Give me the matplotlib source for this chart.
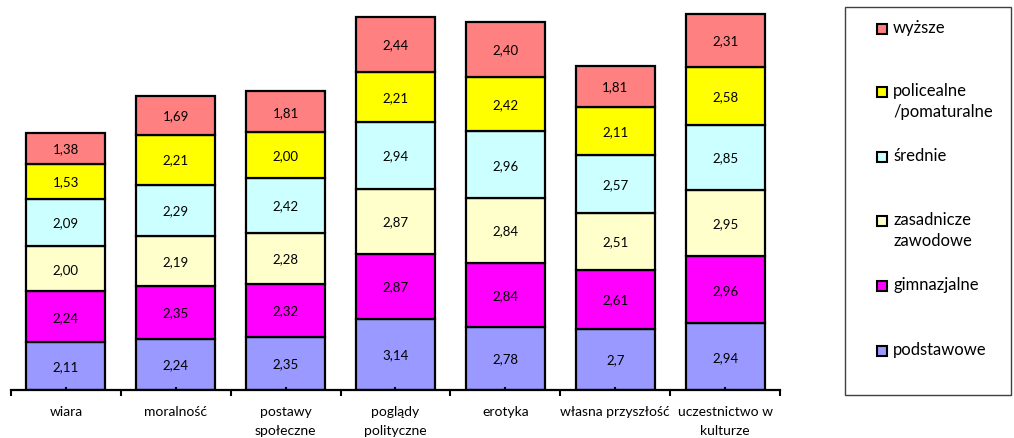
import matplotlib.pyplot as plt
from matplotlib.patches import Rectangle
import numpy as np

categories = ["wiara", "moralność", "postawy\nspołeczne", "poglądy\npolityczne",
              "erotyka", "własna przyszłość", "uczestnictwo w\nkulturze"]

series_names = ["podstawowe", "gimnazjalne", "zasadnicze\nzawodowe", "średnie",
                "policealne\n/pomaturalne", "wyższe"]

podstawowe = ["2,11", "2,24", "2,35", "3,14", "2,78", "2,7", "2,94"]
gimnazjalne = ["2,24", "2,35", "2,32", "2,87", "2,84", "2,61", "2,96"]
zasadnicze = ["2,00", "2,19", "2,28", "2,87", "2,84", "2,51", "2,95"]
srednie = ["2,09", "2,29", "2,42", "2,94", "2,96", "2,57", "2,85"]
policealne = ["1,53", "2,21", "2,00", "2,21", "2,42", "2,11", "2,58"]
wyzsze = ["1,38", "1,69", "1,81", "2,44", "2,40", "1,81", "2,31"]

colors = ["#9999FF", "#FF00FF", "#FFFFCC", "#CCFFFF", "#FFFF00", "#FF8080"]

plt.rcParams['font.family'] = ['Lato', 'DejaVu Sans']

fig = plt.figure(figsize=(10.14, 4.39), dpi=100)
ax = fig.add_axes([11 / 1014, 1 - 391 / 439, 769 / 1014, 391 / 439])

x = np.arange(len(categories))
bottom = np.zeros(len(categories))
for labels, color in zip([podstawowe, gimnazjalne, zasadnicze, srednie, policealne, wyzsze], colors):
    vals = np.array([float(s.replace(",", ".")) for s in labels])
    ax.bar(x, vals, 0.72, bottom=bottom, color=color, edgecolor="black", linewidth=1.6)
    for xi, b, v, s in zip(x, bottom, vals, labels):
        ax.text(xi, b + v / 2, s, ha="center", va="center", fontsize=9.5)
    bottom += vals

ax.set_xlim(-0.5, len(categories) - 0.5)
ax.set_ylim(0, 391 / 22.65)
for s in ["left", "right", "top"]:
    ax.spines[s].set_visible(False)
ax.spines["bottom"].set_linewidth(1.6)
ax.set_yticks([])
ax.set_xticks(x)
ax.set_xticklabels(categories, fontsize=10, linespacing=1.65)
ax.set_xticks(np.arange(-0.5, len(categories)), minor=True)
ax.tick_params(axis="x", which="major", direction="in", length=2, width=1.5, pad=11)
ax.tick_params(axis="x", which="minor", direction="out", length=4, width=1.5)

# legend box
fig.patches.append(Rectangle((845 / 1014, 1 - 396 / 439), 166 / 1014, 388 / 439,
                             transform=fig.transFigure, facecolor="white",
                             edgecolor="#404040", linewidth=1.0))
ys = [352, 287, 222, 158, 93, 30]
for name, color, y in zip(series_names, colors, ys):
    fig.patches.append(Rectangle((877 / 1014, 1 - (y + 5) / 439), 10 / 1014, 10 / 439,
                                 transform=fig.transFigure, facecolor=color,
                                 edgecolor="black", linewidth=1.5))
    fig.text(893 / 1014, 1 - (y - 10) / 439, name, fontsize=12, va="top", ha="left",
             linespacing=1.35)

plt.savefig("out.png", dpi=100)
